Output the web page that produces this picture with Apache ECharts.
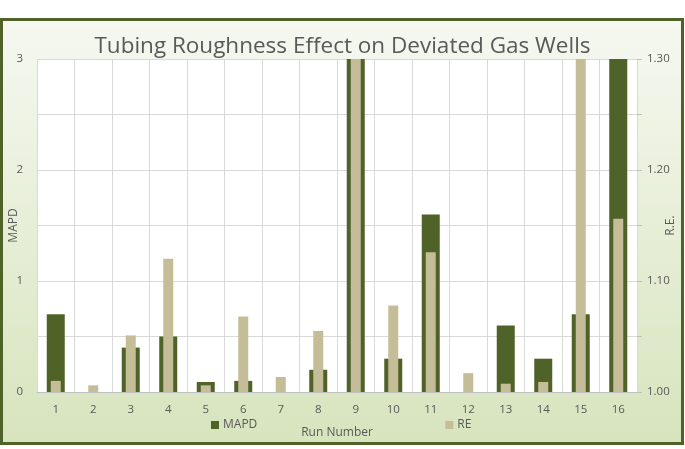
<!DOCTYPE html>
<html><head><meta charset="utf-8">
<script src="https://cdn.jsdelivr.net/npm/echarts@6/dist/echarts.min.js"></script>
<style>html,body{margin:0;padding:0;background:#fff}#c{width:685px;height:449px}</style>
</head><body><div id="c"></div>
<script>
const categories = ['1','2','3','4','5','6','7','8','9','10','11','12','13','14','15','16'];
const mapd = [0.7, 0, 0.4, 0.5, 0.09, 0.1, 0, 0.2, 4.5, 0.3, 1.6, 0, 0.6, 0.3, 0.7, 4.5];
const re = [1.010, 1.006, 1.051, 1.120, 1.006, 1.068, 1.0135, 1.055, 1.45, 1.078, 1.126, 1.017, 1.0075, 1.009, 1.45, 1.156];
const leftTicks = ['0','1','2','3'];
const rightTicks = ['1.00','1.10','1.20','1.30'];

const FONT = 'Open Sans';
const GRAY = '#595959';
const chart = echarts.init(document.getElementById('c'));
chart.setOption({
  animation: false,
  backgroundColor: '#ffffff',
  textStyle: { fontFamily: FONT },
  graphic: [
    { type: 'rect', z: -100, shape: { x: 1.5, y: 19.5, width: 681, height: 424 },
      style: { fill: new echarts.graphic.LinearGradient(0, 0, 0, 1, [
        { offset: 0, color: '#f6f8f1' }, { offset: 0.45, color: '#e8efd9' }, { offset: 1, color: '#d7e4bd' }]),
        stroke: '#4f6228', lineWidth: 3 } },
    { type: 'rect', z: -90, shape: { x: 37, y: 59, width: 600, height: 333 }, style: { fill: '#ffffff' } }
  ],
  title: {
    text: 'Tubing Roughness Effect on Deviated Gas Wells',
    left: 'center', top: 30,
    textStyle: { fontFamily: FONT, fontSize: 22.5, fontWeight: 'normal', color: GRAY }
  },
  legend: {
    data: ['MAPD', 'RE'], left: 206, top: 414, itemGap: 188,
    itemWidth: 8, itemHeight: 8, icon: 'rect',
    textStyle: { fontFamily: FONT, fontSize: 12, color: GRAY, padding: [0, 0, 0, -1] }
  },
  grid: { left: 37, right: 48, top: 59, bottom: 57, containLabel: false, outerBoundsMode: 'none' },
  xAxis: [
    { type: 'category', data: categories, name: 'Run Number', nameLocation: 'middle', nameGap: 35, nameMoveOverlap: false,
      nameTextStyle: { fontFamily: FONT, fontSize: 12, color: GRAY },
      axisLine: { show: true, lineStyle: { color: '#bfbfbf', width: 1 } },
      axisTick: { show: false },
      axisLabel: { color: GRAY, fontSize: 11.5, margin: 12, fontFamily: FONT },
      splitLine: { show: true, interval: 0, lineStyle: { color: '#d9d9d9', width: 1 } } },
    { type: 'category', data: categories, show: false, position: 'bottom' }
  ],
  yAxis: [
    { type: 'value', min: 0, max: 3, interval: 0.5, name: 'MAPD', nameLocation: 'middle', nameGap: 17, nameMoveOverlap: false,
      nameTextStyle: { fontFamily: FONT, fontSize: 12, color: GRAY },
      axisLine: { show: false }, axisTick: { show: false },
      axisLabel: { color: GRAY, fontSize: 11.5, margin: 14, fontFamily: FONT,
        formatter: v => (Number.isInteger(v) ? leftTicks[v] : '') },
      splitLine: { show: true, lineStyle: { color: '#d9d9d9', width: 1 } } },
    { type: 'value', min: 1.0, max: 1.3, interval: 0.05, position: 'right', name: 'R.E.', nameLocation: 'middle', nameGap: 28, nameMoveOverlap: false,
      nameTextStyle: { fontFamily: FONT, fontSize: 12, color: GRAY },
      axisLine: { show: true, lineStyle: { color: '#d9d9d9' } },
      axisTick: { show: true, length: 5, lineStyle: { color: '#bfbfbf' },
        interval: (i) => i % 2 === 0 },
      axisLabel: { color: GRAY, fontSize: 11.5, margin: 10, fontFamily: FONT,
        formatter: v => { const k = Math.round((v - 1) * 100); return k % 10 === 0 ? rightTicks[k / 10] : ''; } },
      splitLine: { show: false } }
  ],
  series: [
    { name: 'MAPD', type: 'bar', xAxisIndex: 0, yAxisIndex: 0, data: mapd, barWidth: 18, clip: true,
      itemStyle: { color: '#4f6228' } },
    { name: 'RE', type: 'bar', xAxisIndex: 1, yAxisIndex: 1, data: re, barWidth: 10, clip: true,
      itemStyle: { color: '#c4bd97' } }
  ]
});
</script></body></html>
